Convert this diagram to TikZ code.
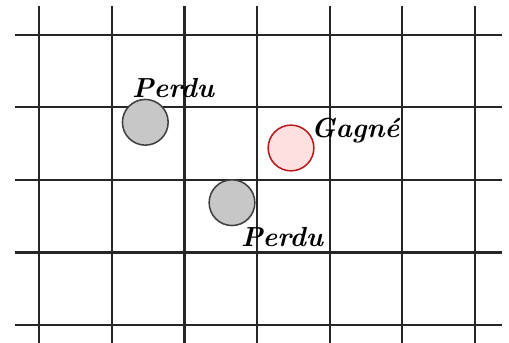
\documentclass[tikz,border=0pt]{standalone}
\begin{document}
\begin{tikzpicture}[x=0.013774cm,y=-0.013774cm,
  gridline/.style={line width=0.8pt,draw=black!85},
  lost/.style={circle,draw=black!75,fill=black!22,line width=0.6pt,minimum size=0.63cm,inner sep=0pt},
  won/.style={circle,draw=red!70!black!90,fill=red!12,line width=0.6pt,minimum size=0.63cm,inner sep=0pt},
  lbl/.style={font=\fontsize{10.8}{13}\selectfont\bfseries\itshape,inner sep=0pt,anchor=base west}]
\useasboundingbox (0,0) rectangle (509,343);
\foreach \i in {0,...,6} \draw[gridline] ({39.3+72.6*\i},6) -- ({39.3+72.6*\i},343);
\foreach \j in {0,...,4} \draw[gridline] (15,{34.7+72.6*\j}) -- (501.7,{34.7+72.6*\j});
\node[lost] (p1) at (145.3,122.3) {};
\node[won] (g) at (291,148) {};
\node[lost] (p2) at (232,202.7) {};
\node[lbl] (lp1) at (131.5,97.3) {Perdu};
\node[lbl] (lg) at (310.5,137.7) {Gagné};
\node[lbl] (lp2) at (240.5,246.7) {Perdu};
\end{tikzpicture}
\end{document}
